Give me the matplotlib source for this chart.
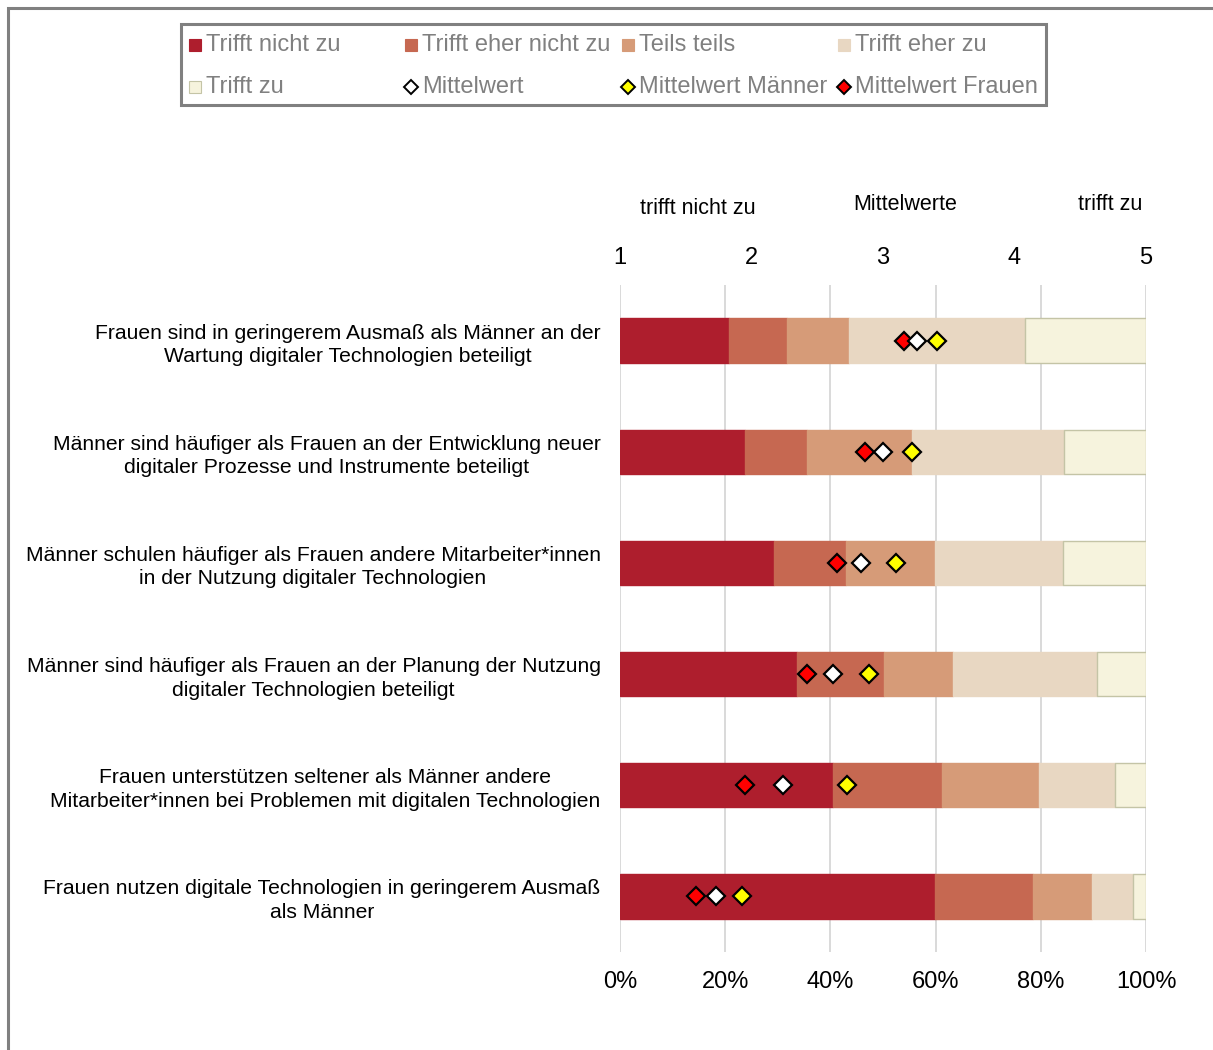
import matplotlib.pyplot as plt
from matplotlib.patches import Rectangle

plt.rcParams['font.family'] = ['Liberation Sans', 'DejaVu Sans']

aussagen = [
    'Frauen sind in geringerem Ausmaß als Männer an der\nWartung digitaler Technologien beteiligt',
    'Männer sind häufiger als Frauen an der Entwicklung neuer\ndigitaler Prozesse und Instrumente beteiligt',
    'Männer schulen häufiger als Frauen andere Mitarbeiter*innen\nin der Nutzung digitaler Technologien',
    'Männer sind häufiger als Frauen an der Planung der Nutzung\ndigitaler Technologien beteiligt',
    'Frauen unterstützen seltener als Männer andere\nMitarbeiter*innen bei Problemen mit digitalen Technologien',
    'Frauen nutzen digitale Technologien in geringerem Ausmaß\nals Männer',
]

# Anteile in Prozent
trifft_nicht_zu = [20.8, 23.7, 29.3, 33.6, 40.4, 59.8]
eher_nicht_zu = [11.0, 11.9, 13.6, 16.6, 20.9, 18.7]
teils_teils = [11.8, 20.0, 17.0, 13.1, 18.3, 11.2]
eher_zu = [33.4, 28.9, 24.4, 27.3, 14.5, 7.9]
trifft_zu = [23.0, 15.5, 15.7, 9.4, 5.9, 2.4]

# Mittelwerte auf der Skala 1-5
mw_gesamt = [3.26, 3.00, 2.83, 2.62, 2.24, 1.73]
mw_maenner = [3.41, 3.22, 3.10, 2.89, 2.73, 1.93]
mw_frauen = [3.16, 2.86, 2.65, 2.42, 1.95, 1.58]

kategorien = ['Trifft nicht zu', 'Trifft eher nicht zu', 'Teils teils', 'Trifft eher zu', 'Trifft zu']
farben = ['#AE1E2D', '#C66851', '#D69B78', '#E8D7C2', '#F6F3DD']
randfarben = ['#AE1E2D', '#C66851', '#D69B78', '#E8D7C2', '#C4C4A6']

fig = plt.figure(figsize=(12.13, 10.5), dpi=100)
W, H = 1213, 1050

# Rahmen des Diagrammbereichs
fig.add_artist(Rectangle((8 / W, -0.1), 1.2, 1 - 8 / H + 0.1, transform=fig.transFigure,
                         fill=False, edgecolor='#808080', linewidth=2.2))

ax = fig.add_axes([620 / W, 1 - 952 / H, 526 / W, 667 / H])
y = list(range(len(aussagen)))
links = [0] * len(aussagen)
for werte, farbe, rand in zip([trifft_nicht_zu, eher_nicht_zu, teils_teils, eher_zu, trifft_zu],
                              farben, randfarben):
    ax.barh(y, werte, left=links, height=0.4, color=farbe, edgecolor=rand, linewidth=1, zorder=2)
    links = [l + w for l, w in zip(links, werte)]

ax.set_xlim(0, 100)
ax.set_ylim(5.5, -0.5)
ax.set_xticks([0, 20, 40, 60, 80, 100])
ax.set_xticklabels(['0%', '20%', '40%', '60%', '80%', '100%'], fontsize=17)
ax.set_yticks(y)
ax.set_yticklabels(aussagen, fontsize=15.2, multialignment='center', linespacing=1.3)
ax.tick_params(axis='x', length=0, pad=14)
ax.tick_params(axis='y', length=0, pad=14)
ax.grid(axis='x', color='#D9D9D9', linewidth=1.4, zorder=0)
ax.set_axisbelow(True)
for s in ax.spines.values():
    s.set_visible(False)

# zweite Achse für die Mittelwerte
ax2 = ax.twiny()
ax2.set_xlim(1, 5)
ax2.set_xticks([1, 2, 3, 4, 5])
ax2.tick_params(axis='x', length=0, pad=11.5, labelsize=17)
for s in ax2.spines.values():
    s.set_visible(False)
mk = dict(marker='D', markersize=9.5, markeredgecolor='black', markeredgewidth=1.6,
          linestyle='none', zorder=5)
ax2.plot(mw_frauen, y, markerfacecolor='#FF0000', **mk)
ax2.plot(mw_gesamt, y, markerfacecolor='white', **mk)
ax2.plot(mw_maenner, y, markerfacecolor='#FFFF00', **mk)
ax2.set_ylim(5.5, -0.5)

fig.text(698 / W, 1 - 208 / H, 'trifft nicht zu', ha='center', va='center', fontsize=15.5)
fig.text(905 / W, 1 - 205 / H, 'Mittelwerte', ha='center', va='center', fontsize=15.5)
fig.text(1110 / W, 1 - 205 / H, 'trifft zu', ha='center', va='center', fontsize=15.5)

# Legende
lax = fig.add_axes([181 / W, 1 - 105 / H, 865 / W, 81 / H])
lax.set_xlim(0, 865)
lax.set_ylim(81, 0)
lax.axis('off')
lax.add_patch(Rectangle((0, 0), 865, 81, fill=False, edgecolor='#808080', linewidth=2.2,
                        clip_on=False))
spalten = [8, 224, 441, 657]
zeilen = [21, 63]
eintraege = kategorien + ['Mittelwert', 'Mittelwert Männer', 'Mittelwert Frauen']
for i, text in enumerate(eintraege):
    x0 = spalten[i % 4]
    y0 = zeilen[i // 4]
    if i < 5:
        lax.add_patch(Rectangle((x0, y0 - 6), 12, 12, facecolor=farben[i], edgecolor=randfarben[i],
                                linewidth=0.8))
    else:
        fc = ['white', '#FFFF00', '#FF0000'][i - 5]
        lax.plot([x0 + 6], [y0], marker='D', markersize=7, markerfacecolor=fc,
                 markeredgecolor='black', markeredgewidth=1.4)
    lax.text(x0 + 17, y0, text, ha='left', va='center', fontsize=17, color='#808080')

fig.savefig('out.png', dpi=100)
